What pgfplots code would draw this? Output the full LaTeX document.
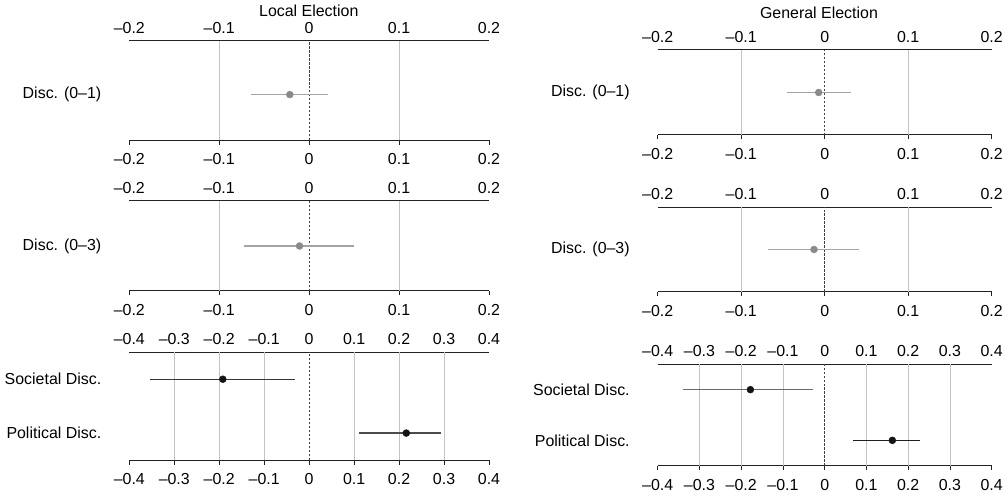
\documentclass[border=0pt]{standalone}
\usepackage{fontspec}
\setmainfont{Liberation Sans}
\usepackage{pgfplots}
\pgfplotsset{compat=1.18}
\definecolor{gridc}{HTML}{C4C4C4}
\definecolor{ptgray}{HTML}{8A8A8A}
\definecolor{bargray}{HTML}{A4A4A4}
\definecolor{axc}{HTML}{222222}
\newcommand\fs{\fontsize{16}{19}\selectfont}
\tikzset{
  gl/.style={gridc, line width=0.9pt},
  zl/.style={black!75, line width=0.6pt, dash pattern=on 2.5pt off 1.5pt},
}
\pgfplotsset{
  panel/.style={scale only axis, separate axis lines, ymin=0, ymax=1,
    x axis line style={line width=1pt, axc}, y axis line style={draw=none},
    xtick pos=left, tick align=outside, major tick length=4.5bp,
    x tick style={line width=0.9pt, axc}, ytick pos=left, y tick style={draw=none},
    tick label style={font=\fs}, yticklabel style={xshift=-20bp},
    xticklabel style={inner sep=1bp, yshift=-7.8bp}, clip=false},
  sc2/.style={xmin=-0.2, xmax=0.2, xtick={-0.2,-0.1,0,0.1,0.2},
    xticklabels={–0.2,–0.1,0,0.1,0.2}},
  sc4/.style={xmin=-0.4, xmax=0.4, xtick={-0.4,-0.3,-0.2,-0.1,0,0.1,0.2,0.3,0.4},
    xticklabels={–0.4,–0.3,–0.2,–0.1,0,0.1,0.2,0.3,0.4}},
  toplab/.style={xticklabel pos=right, xtick pos=right, major tick length=0pt,
    x axis line style={draw=none}, ytick=\empty, xticklabel style={yshift=14.1bp}},
  eb/.style={only marks, mark=*, mark size=3.5bp,
    error bars/.cd, x dir=both, x explicit, error mark=none,
    error bar style={line width=1.3pt, #1}},
}
\begin{document}
\begin{tikzpicture}[font=\fs]
\path[use as bounding box] (0,0) rectangle (1008bp,498bp);
\node[inner sep=0pt] at (308.8bp,487bp) {Local Election};
\node[inner sep=0pt] at (819bp,485bp) {General Election};

% ---------- Left row 1
\begin{axis}[panel, sc2, at={(129.3bp,357.7bp)}, anchor=south west,
  width=359.7bp, height=99.3bp, ytick={0.46}, yticklabels={Disc. (0–1)}]
  \draw[gl] (-0.1,0) -- (-0.1,1);
  \draw[gl] (0.1,0) -- (0.1,1);
  \draw[zl] (0,0) -- (0,1);
  \addplot[ptgray, eb=bargray] coordinates {(-0.0215,0.46) += (0.0425,0) -= (0.0435,0)};
\end{axis}
\begin{axis}[panel, sc2, toplab, at={(129.3bp,357.7bp)}, anchor=south west,
  width=359.7bp, height=99.3bp]
\end{axis}

% ---------- Left row 2
\begin{axis}[panel, sc2, at={(129.3bp,207bp)}, anchor=south west,
  width=359.7bp, height=90bp, ytick={0.5}, yticklabels={Disc. (0–3)}]
  \draw[gl] (-0.1,0) -- (-0.1,1);
  \draw[gl] (0.1,0) -- (0.1,1);
  \draw[zl] (0,0) -- (0,1);
  \addplot[ptgray, eb=bargray] coordinates {(-0.0107,0.5) += (0.0607,0) -= (0.0623,0)};
\end{axis}
\begin{axis}[panel, sc2, toplab, at={(129.3bp,207bp)}, anchor=south west,
  width=359.7bp, height=90bp]
\end{axis}

% ---------- Left row 3
\begin{axis}[panel, sc4, at={(129.3bp,38bp)}, anchor=south west,
  width=359.7bp, height=107.7bp, ytick={0.25,0.75}, yticklabels={Political Disc.,Societal Disc.}]
  \pgfplotsinvokeforeach{-0.3,-0.2,-0.1,0.1,0.2,0.3}{\draw[gl] (#1,0) -- (#1,1);}
  \draw[zl] (0,0) -- (0,1);
  \addplot[black!92, eb=black!78] coordinates {(-0.192,0.75) += (0.161,0) -= (0.162,0)};
  \addplot[black!92, eb=black!70] coordinates {(0.216,0.25) += (0.0765,0) -= (0.106,0)};
\end{axis}
\begin{axis}[panel, sc4, toplab, at={(129.3bp,38bp)}, anchor=south west,
  width=359.7bp, height=107.7bp]
\end{axis}

% ---------- Right row 1
\begin{axis}[panel, sc2, at={(657.7bp,363bp)}, anchor=south west,
  width=334bp, height=85bp, ytick={0.5}, yticklabels={Disc. (0–1)}]
  \draw[gl] (-0.1,0) -- (-0.1,1);
  \draw[gl] (0.1,0) -- (0.1,1);
  \draw[zl] (0,0) -- (0,1);
  \addplot[ptgray, eb=bargray] coordinates {(-0.0072,0.5) += (0.0382,0) -= (0.0378,0)};
\end{axis}
\begin{axis}[panel, sc2, toplab, at={(657.7bp,363bp)}, anchor=south west,
  width=334bp, height=85bp]
\end{axis}

% ---------- Right row 2
\begin{axis}[panel, sc2, at={(657.7bp,206.3bp)}, anchor=south west,
  width=334bp, height=84.4bp, ytick={0.5}, yticklabels={Disc. (0–3)}]
  \draw[gl] (-0.1,0) -- (-0.1,1);
  \draw[gl] (0.1,0) -- (0.1,1);
  \draw[zl] (0,0) -- (0,1);
  \addplot[ptgray, eb=bargray] coordinates {(-0.0128,0.5) += (0.0538,0) -= (0.0552,0)};
\end{axis}
\begin{axis}[panel, sc2, toplab, at={(657.7bp,206.3bp)}, anchor=south west,
  width=334bp, height=84.4bp]
\end{axis}

% ---------- Right row 3
\begin{axis}[panel, sc4, at={(657.7bp,32.3bp)}, anchor=south west,
  width=334bp, height=101.4bp, ytick={0.25,0.75}, yticklabels={Political Disc.,Societal Disc.}]
  \pgfplotsinvokeforeach{-0.3,-0.2,-0.1,0.1,0.2,0.3}{\draw[gl] (#1,0) -- (#1,1);}
  \draw[zl] (0,0) -- (0,1);
  \addplot[black!92, eb=black!58] coordinates {(-0.178,0.75) += (0.150,0) -= (0.161,0)};
  \addplot[black!92, eb=black!88] coordinates {(0.162,0.25) += (0.067,0) -= (0.094,0)};
\end{axis}
\begin{axis}[panel, sc4, toplab, at={(657.7bp,32.3bp)}, anchor=south west,
  width=334bp, height=101.4bp]
\end{axis}
\end{tikzpicture}
\end{document}
